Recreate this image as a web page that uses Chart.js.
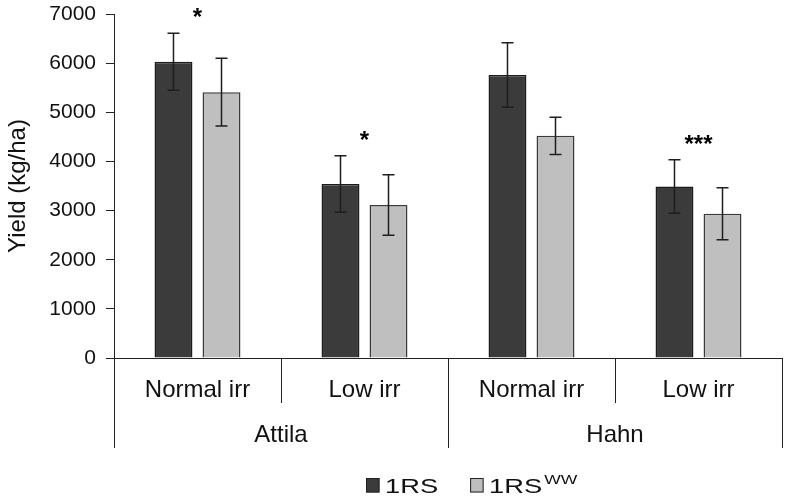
<!DOCTYPE html>
<html>
<head>
<meta charset="utf-8">
<script src="https://cdn.jsdelivr.net/npm/chart.js@4.4.1/dist/chart.umd.min.js"></script>
<style>
  html, body { margin: 0; padding: 0; background: #fff; }
  #wrap { width: 786px; height: 503px; position: relative; }
</style>
</head>
<body>
<div id="wrap"><canvas id="yieldChart"></canvas></div>
<script>
// data
const subLabels = ['Normal irr', 'Low irr', 'Normal irr', 'Low irr'];
const groupLabels = ['Attila', 'Hahn'];
const groupSize = 2;
const rsYield = [6030, 3540, 5760, 3490];
const rsErr = [580, 575, 655, 545];
const wwYield = [5410, 3115, 4520, 2935];
const wwErr = [690, 615, 380, 530];
const sigMarks = ['*', '*', '', '***'];
const seriesNames = ['1RS', '1RS'];
const seriesSup = ['', 'WW'];
const yTicks = [0, 1000, 2000, 3000, 4000, 5000, 6000, 7000];

const FONT = '"Liberation Sans", Arial, sans-serif';
const ctx = document.getElementById('yieldChart').getContext('2d');

// error bars on top of each bar
const errorBars = {
  id: 'errorBars',
  afterDatasetsDraw(chart) {
    const y = chart.scales.y;
    const c = chart.ctx;
    c.save();
    c.strokeStyle = '#1e1e1e';
    c.lineWidth = 1.5;
    chart.data.datasets.forEach((ds, d) => {
      const meta = chart.getDatasetMeta(d);
      meta.data.forEach((bar, i) => {
        const top = y.getPixelForValue(ds.data[i] + ds.err[i]);
        const bot = y.getPixelForValue(ds.data[i] - ds.err[i]);
        c.beginPath();
        c.moveTo(bar.x, top); c.lineTo(bar.x, bot);
        c.moveTo(bar.x - 6, top); c.lineTo(bar.x + 6, top);
        c.moveTo(bar.x - 6, bot); c.lineTo(bar.x + 6, bot);
        c.stroke();
      });
    });
    c.restore();
  }
};

// significance stars above each pair
const stars = {
  id: 'stars',
  afterDatasetsDraw(chart) {
    const x = chart.scales.x, y = chart.scales.y;
    const c = chart.ctx;
    c.save();
    c.fillStyle = '#000';
    c.font = 'bold 24px ' + FONT;
    c.textAlign = 'center';
    c.textBaseline = 'alphabetic';
    sigMarks.forEach((m, i) => {
      if (!m) return;
      const hi = Math.max(rsYield[i] + rsErr[i], wwYield[i] + wwErr[i]);
      c.fillText(m, x.getPixelForValue(i), y.getPixelForValue(hi) - 8);
    });
    c.restore();
  }
};

// two-level category axis
const groupAxis = {
  id: 'groupAxis',
  afterDraw(chart) {
    const x = chart.scales.x;
    const c = chart.ctx;
    const base = chart.chartArea.bottom;
    const step = (x.right - x.left) / subLabels.length;
    c.save();
    c.strokeStyle = '#222';
    c.lineWidth = 1;
    c.fillStyle = '#111';
    c.textAlign = 'center';
    c.textBaseline = 'alphabetic';
    c.font = '24px ' + FONT;
    for (let i = 0; i <= subLabels.length; i++) {
      const px = Math.round(x.left + i * step) + 0.5;
      const len = (i % groupSize === 0) ? 90 : 45;
      c.beginPath();
      c.moveTo(px, base); c.lineTo(px, base + len);
      c.stroke();
    }
    subLabels.forEach((s, i) => c.fillText(s, x.getPixelForValue(i), base + 38.5));
    groupLabels.forEach((g, k) => {
      const cx = x.left + (k * groupSize + groupSize / 2) * step;
      c.fillText(g, cx, base + 83.5);
    });
    c.restore();
  }
};

// legend drawn by hand for the superscript
const legendSup = {
  id: 'legendSup',
  afterDraw(chart) {
    const c = chart.ctx;
    const base = 492.5;
    const sx = 1.3;
    let bx = 366;
    c.save();
    c.textBaseline = 'alphabetic';
    c.textAlign = 'left';
    chart.data.datasets.forEach((ds, d) => {
      c.fillStyle = ds.backgroundColor;
      c.strokeStyle = '#222';
      c.lineWidth = 1;
      c.fillRect(bx, base - 14.5, 13.5, 14.5);
      c.strokeRect(bx + 0.5, base - 14, 12.5, 13.5);
      let tx = bx + 19;
      c.fillStyle = '#111';
      c.font = '21px ' + FONT;
      let w = c.measureText(seriesNames[d]).width * sx;
      c.save(); c.translate(tx, base); c.scale(sx, 1);
      c.fillText(seriesNames[d], 0, 0);
      c.restore();
      tx += w;
      if (seriesSup[d]) {
        c.font = '13px ' + FONT;
        c.save(); c.translate(tx + 2, base - 8.5); c.scale(1.35, 1);
        c.fillText(seriesSup[d], 0, 0);
        c.restore();
        tx += c.measureText(seriesSup[d]).width * 1.35 + 2;
      }
      bx = tx + 32;
    });
    c.restore();
  }
};

const chart = new Chart(ctx, {
  type: 'bar',
  data: {
    labels: subLabels,
    datasets: [{
      label: seriesNames[0],
      data: rsYield,
      err: rsErr,
      backgroundColor: '#3b3b3b',
      borderColor: '#1c1c1c',
      borderWidth: 1.5
    }, {
      label: seriesNames[1] + seriesSup[1],
      data: wwYield,
      err: wwErr,
      backgroundColor: '#bfbfbf',
      borderColor: '#3a3a3a',
      borderWidth: 1.5
    }]
  },
  options: {
    responsive: true,
    maintainAspectRatio: false,
    animation: false,
    categoryPercentage: 0.575,
    barPercentage: 0.79,
    layout: { padding: { top: 14, right: 4, left: 0, bottom: 0 } },
    plugins: {
      legend: { display: false },
      tooltip: { enabled: false }
    },
    scales: {
      x: {
        grid: { display: false },
        border: { display: true, color: '#222', width: 1 },
        ticks: { display: false },
        afterFit(scale) { scale.height = 145; }
      },
      y: {
        min: 0,
        max: 7000,
        afterBuildTicks(scale) { scale.ticks = yTicks.map(v => ({ value: v })); },
        grid: { display: true, drawOnChartArea: false, tickLength: 8, color: '#222' },
        border: { display: true, color: '#222', width: 1 },
        ticks: {
          color: '#111',
          padding: 10,
          font: { family: FONT, size: 21 },
          callback: v => String(v)
        },
        title: {
          display: true,
          text: 'Yield (kg/ha)',
          color: '#111',
          padding: { top: 4, bottom: 0 },
          font: { family: FONT, size: 24 }
        },
        afterFit(scale) {
          scale.width = 114;
          scale.paddingTop = 0;
          scale.paddingBottom = 0;
        }
      }
    }
  },
  plugins: [errorBars, stars, groupAxis, legendSup]
});
</script>
</body>
</html>
